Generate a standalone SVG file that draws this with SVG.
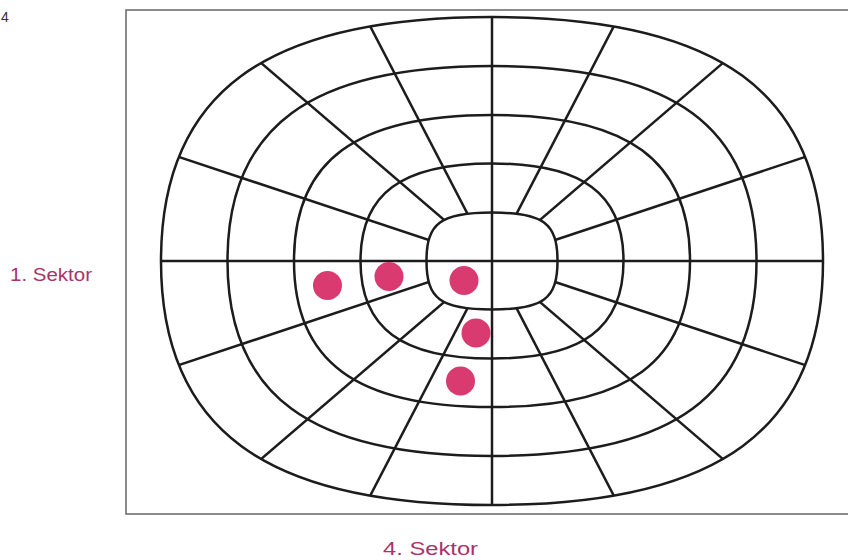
<svg xmlns="http://www.w3.org/2000/svg" width="848" height="560" viewBox="0 0 848 560">
  <style>
    .ring { fill: none; stroke: #1c1c1c; stroke-width: 2.5; }
    .ray { stroke: #1c1c1c; stroke-width: 2.5; fill: none; }
    .frame { fill: none; stroke: #666; stroke-width: 1.5; }
    .dot { fill: #d93a70; }
    .lbl { font-family: "Liberation Sans", Arial, sans-serif; font-size: 18px; fill: #a8346a; }
    .num { font-family: "Liberation Sans", Arial, sans-serif; font-size: 14px; fill: #333; }
  </style>
  <defs>
    <clipPath id="outerClip">
      <path d="M823,261 C823,428.9 719.6,505 492,505 C264.4,505 161,428.9 161,261 C161,93.1 264.4,17 492,17 C719.6,17 823,93.1 823,261Z"/>
    </clipPath>
  </defs>
  <rect width="848" height="560" fill="#fff"/>

  <g id="frame">
    <path class="frame" d="M860,10 L126,10 L126,514 L860,514"/>
  </g>

  <g id="grid">
    <g id="rays" clip-path="url(#outerClip)">
      <line class="ray" x1="147.7" y1="146.6" x2="836.3" y2="375.4"/>
      <line class="ray" x1="836.3" y1="146.6" x2="147.7" y2="375.4"/>
      <line class="ray" x1="236.8" y1="42.1" x2="747.2" y2="479.9"/>
      <line class="ray" x1="747.2" y1="42.1" x2="236.8" y2="479.9"/>
      <line class="ray" x1="356.7" y1="0.3" x2="627.3" y2="521.7"/>
      <line class="ray" x1="627.3" y1="0.3" x2="356.7" y2="521.7"/>
    </g>
    <path id="core" d="M557.5,261 C557.5,299 543.3,309.5 492,309.5 C440.7,309.5 426.5,299 426.5,261 C426.5,223 440.7,212.5 492,212.5 C543.3,212.5 557.5,223 557.5,261Z" fill="#fff"/>
    <g id="axes" clip-path="url(#outerClip)">
      <line class="ray" x1="150" y1="261" x2="834" y2="261"/>
      <line class="ray" x1="492" y1="0" x2="492" y2="520"/>
    </g>
    <g id="rings">
      <path class="ring" d="M557.5,261 C557.5,299 543.3,309.5 492,309.5 C440.7,309.5 426.5,299 426.5,261 C426.5,223 440.7,212.5 492,212.5 C543.3,212.5 557.5,223 557.5,261Z"/>
      <path class="ring" d="M623.5,261 C623.5,328.1 582.5,358.5 492,358.5 C401.5,358.5 360.5,328.1 360.5,261 C360.5,193.9 401.5,163.5 492,163.5 C582.5,163.5 623.5,193.9 623.5,261Z"/>
      <path class="ring" d="M690,261 C690,361.4 628.2,407 492,407 C355.8,407 294,361.4 294,261 C294,160.6 355.8,115 492,115 C628.2,115 690,160.6 690,261Z"/>
      <path class="ring" d="M756.5,261 C756.5,395.1 673.9,456 492,456 C310.1,456 227.5,395.1 227.5,261 C227.5,126.9 310.1,66 492,66 C673.9,66 756.5,126.9 756.5,261Z"/>
      <path class="ring" d="M823,261 C823,428.9 719.6,505 492,505 C264.4,505 161,428.9 161,261 C161,93.1 264.4,17 492,17 C719.6,17 823,93.1 823,261Z"/>
    </g>
  </g>

  <g id="dots">
    <circle class="dot" cx="327.5" cy="285.5" r="14.5"/>
    <circle class="dot" cx="389" cy="276.5" r="14.5"/>
    <circle class="dot" cx="464" cy="280.5" r="14.5"/>
    <circle class="dot" cx="476" cy="333" r="14.5"/>
    <circle class="dot" cx="460.5" cy="381" r="14.5"/>
  </g>

  <g id="labels">
    <text class="num" x="1" y="22">4</text>
    <text class="lbl" x="10" y="281" textLength="82" lengthAdjust="spacingAndGlyphs">1. Sektor</text>
    <text class="lbl" x="383" y="555" textLength="95" lengthAdjust="spacingAndGlyphs">4. Sektor</text>
  </g>
</svg>
